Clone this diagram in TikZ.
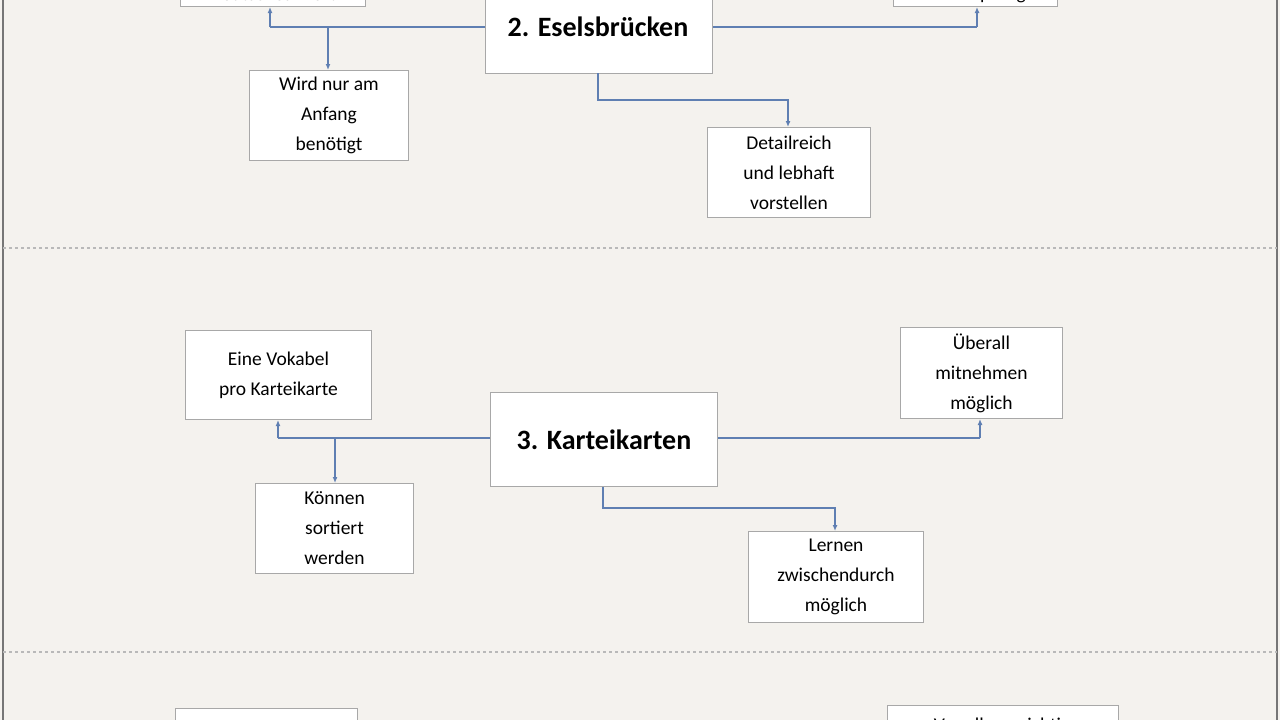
\documentclass[tikz,border=0pt]{standalone}
\usepackage{fontspec}
\setmainfont{Carlito}
\usetikzlibrary{arrows.meta}
\definecolor{bg}{HTML}{F4F2EE}
\definecolor{bord}{HTML}{A8A8A8}
\definecolor{conn}{HTML}{5F7FB2}
\tikzset{
 box/.style={draw=bord,fill=white,line width=1pt,align=center,font=\fontsize{19.5}{30}\selectfont,inner sep=0pt,anchor=north west},
 mainbox/.style={box,font=\bfseries\fontsize{28}{30}\selectfont},
 txt/.style={font=\fontsize{19.5}{30}\selectfont,inner sep=0pt},
 con/.style={draw=conn,line width=1.3pt},
 arr/.style={con,-{Latex[length=6pt,width=5pt]}},
 sep/.style={draw=bord!80,dashed,line width=1.2pt}
}
\begin{document}
\begin{tikzpicture}[x=1pt,y=-1pt]
\useasboundingbox (0,0) rectangle (1280,720);
\clip (0,0) rectangle (1280,720);
\fill[bg] (0,0) rectangle (1280,720);
\draw[bord!70!black,line width=1.5pt] (3,0) -- (3,720) (1277,0) -- (1277,720);
\draw[sep] (3,248) -- (1277,248);
\draw[sep] (3,652) -- (1277,652);
% section 2
\node[mainbox,minimum width=227pt,minimum height=93pt] (e) at (485,-20) {};
\node[font=\bfseries\fontsize{28}{30}\selectfont] (et) at (598,27) {2. Eselsbrücken};
\node[box,minimum width=185pt,minimum height=40pt] (a1) at (180,-34) {};
\node[txt] (a1t) at (273,-6) {Deutsches Wort};
\node[box,minimum width=164pt,minimum height=40pt] (a2) at (893,-34) {};
\node[txt] (a2t) at (975,-6) {Verknüpfung};
\node[box,minimum width=159pt,minimum height=90pt] (a3) at (249,70) {Wird nur am\\Anfang\\benötigt};
\node[box,minimum width=163pt,minimum height=90pt] (a4) at (707,127) {Detailreich\\und lebhaft\\vorstellen};
\coordinate (l1) at (270,27); \coordinate (r1) at (977,27);
\draw[con] (e.west |- l1) -- (l1);
\draw[arr] (l1) -- (a1.south -| l1);
\draw[con] (e.east |- r1) -- (r1);
\draw[arr] (r1) -- (a2.south -| r1);
\draw[arr] (328,27) -- (a3.north -| 328,0);
\draw[arr] (598,73) -- (598,100) -- (788,100) -- (a4.north -| 788,0);
% section 3
\node[mainbox,minimum width=227pt,minimum height=94pt] (k) at (490,392) {3. Karteikarten};
\node[box,minimum width=186pt,minimum height=89pt] (b1) at (185,330) {Eine Vokabel\\pro Karteikarte};
\node[box,minimum width=162pt,minimum height=91pt] (b2) at (900,327) {Überall\\mitnehmen\\möglich};
\node[box,minimum width=158pt,minimum height=90pt] (b3) at (255,483) {Können\\sortiert\\werden};
\node[box,minimum width=175pt,minimum height=91pt] (b4) at (748,531) {Lernen\\zwischendurch\\möglich};
\coordinate (l2) at (278,438); \coordinate (r2) at (980,438);
\draw[con] (k.west |- l2) -- (l2);
\draw[arr] (l2) -- (b1.south -| l2);
\draw[con] (k.east |- r2) -- (r2);
\draw[arr] (r2) -- (b2.south -| r2);
\draw[arr] (335,438) -- (b3.north -| 335,0);
\draw[arr] (k.south -| 603,0) -- (603,508) -- (835,508) -- (b4.north -| 835,0);
% section 4 (cut off)
\node[box,minimum width=182pt,minimum height=60pt] (c1) at (175,708) {};
\node[box,minimum width=231pt,minimum height=60pt] (c2) at (887,705) {};
\node[txt] (c2t) at (1002,726) {Vor allem wichtig};
\end{tikzpicture}
\end{document}
